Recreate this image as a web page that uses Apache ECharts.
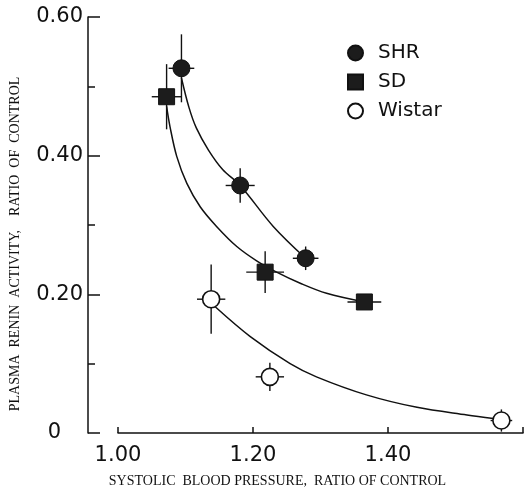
<!DOCTYPE html>
<html><head><meta charset="utf-8">
<script src="https://cdn.jsdelivr.net/npm/echarts@6/dist/echarts.min.js"></script>
<style>html,body{margin:0;padding:0;background:#fff}#c{width:529px;height:493px}</style>
</head><body><div id="c"></div>
<script>
// Data
const seriesNames = ['SHR', 'SD', 'Wistar'];
const shrX = [1.094, 1.181, 1.278];
const shrY = [0.526, 0.357, 0.252];
const shrXErr = [0.019, 0.0215, 0.019];
const shrYErr = [0.049, 0.025, 0.017];
const sdX = [1.072, 1.218, 1.365];
const sdY = [0.485, 0.232, 0.189];
const sdXErr = [0.022, 0.028, 0.025];
const sdYErr = [0.047, 0.030, 0];
const wisX = [1.138, 1.225, 1.568];
const wisY = [0.193, 0.081, 0.018];
const wisXErr = [0.021, 0.021, 0.016];
const wisYErr = [0.050, 0.0205, 0.016];
// fitted curves
const shrFitX = [1.094, 1.105, 1.116, 1.134, 1.155, 1.181, 1.230, 1.278];
const shrFitY = [0.512, 0.470, 0.440, 0.408, 0.380, 0.357, 0.298, 0.252];
const sdFitX = [1.072, 1.077, 1.087, 1.102, 1.122, 1.146, 1.176, 1.206, 1.235, 1.270, 1.309, 1.365];
const sdFitY = [0.471, 0.442, 0.399, 0.360, 0.326, 0.298, 0.269, 0.248, 0.232, 0.216, 0.2015, 0.189];
const wisFitX = [1.144, 1.196, 1.255, 1.294, 1.368, 1.443, 1.517, 1.556];
const wisFitY = [0.182, 0.139, 0.100, 0.081, 0.055, 0.037, 0.026, 0.021];
const xTickLabels = ['1.00', '1.20', '1.40'];
const yTickLabels = ['0', '0.20', '0.40', '0.60'];

const ink = '#111';
const pts = (xs, ys) => xs.map((x, i) => [x, ys[i]]);
const errs = (xs, ys, ex, ey) => xs.map((x, i) => [x, ys[i], ex[i], ey[i]]);

function errRender(params, api) {
  const x = api.value(0), y = api.value(1), ex = api.value(2), ey = api.value(3);
  const c = api.coord([x, y]);
  const l = api.coord([x - ex, y]), r = api.coord([x + ex, y]);
  const t = api.coord([x, y + ey]), b = api.coord([x, y - ey]);
  const st = { stroke: ink, lineWidth: 1.4 };
  return { type: 'group', children: [
    { type: 'line', shape: { x1: l[0], y1: c[1], x2: r[0], y2: c[1] }, style: st },
    { type: 'line', shape: { x1: c[0], y1: t[1], x2: c[0], y2: b[1] }, style: st }
  ]};
}

const lineFont = 'DejaVu Sans';
const fitStyle = { color: ink, width: 1.5 };
const chart = echarts.init(document.getElementById('c'));
chart.setOption({
  backgroundColor: '#fff',
  animation: false,
  grid: { left: 118, right: 6, top: 17, bottom: 60, containLabel: false },
  legend: {
    data: seriesNames, orient: 'vertical', left: 342, top: 38,
    itemWidth: 15, itemHeight: 15, itemGap: 9,
    textStyle: { fontFamily: lineFont, fontSize: 20, color: ink, padding: [0, 0, 0, 10], lineHeight: 19 }
  },
  xAxis: {
    type: 'value', min: 1.0, max: 1.6, interval: 0.2, offset: 3,
    axisLine: { show: true, lineStyle: { color: ink, width: 1.5 } },
    axisTick: { show: true, inside: true, length: 6, lineStyle: { color: ink, width: 1.5 } },
    splitLine: { show: false },
    axisLabel: {
      margin: 9, color: ink, fontFamily: lineFont, fontSize: 21,
      formatter: v => { const i = Math.round((v - 1.0) / 0.2); return xTickLabels[i] !== undefined ? xTickLabels[i] : ''; }
    },
    name: 'SYSTOLIC  BLOOD PRESSURE,  RATIO OF CONTROL', nameLocation: 'middle', nameGap: 38,
    nameTextStyle: { fontFamily: 'Liberation Serif', fontSize: 14, color: ink, padding: [0, 86, 0, 0] }
  },
  yAxis: {
    type: 'value', min: 0, max: 0.6, interval: 0.2, offset: 30,
    axisLine: { show: true, lineStyle: { color: ink, width: 1.5 } },
    axisTick: { show: true, inside: true, length: 12, lineStyle: { color: ink, width: 1.5 } },
    minorTick: { show: true, splitNumber: 2, length: 7, lineStyle: { color: ink, width: 1.5 } },
    splitLine: { show: false },
    axisLabel: {
      margin: 5, color: ink, fontFamily: lineFont, fontSize: 21,
      formatter: v => { const i = Math.round(v / 0.2); return i === 0 ? '{z|' + yTickLabels[0] + '}' : yTickLabels[i]; },
      rich: { z: { fontFamily: lineFont, fontSize: 21, color: ink, padding: [0, 22, 0, 0] } }
    },
    name: 'PLASMA  RENIN  ACTIVITY,    RATIO  OF  CONTROL', nameLocation: 'middle', nameGap: 66,
    nameTextStyle: { fontFamily: 'Liberation Serif', fontSize: 14, color: ink, padding: [0, 38, 0, 0] }
  },
  series: [
    { name: 'shrFit', type: 'line', data: pts(shrFitX, shrFitY), smooth: 0.35, showSymbol: false, z: 1,
      lineStyle: fitStyle },
    { name: 'sdFit', type: 'line', data: pts(sdFitX, sdFitY), smooth: 0.35, showSymbol: false, z: 1,
      lineStyle: fitStyle },
    { name: 'wisFit', type: 'line', data: pts(wisFitX, wisFitY), smooth: 0.35, showSymbol: false, z: 1,
      lineStyle: fitStyle },
    { name: 'errs', type: 'custom', renderItem: errRender, z: 2, encode: { x: 0, y: 1 },
      data: [].concat(errs(shrX, shrY, shrXErr, shrYErr), errs(sdX, sdY, sdXErr, sdYErr), errs(wisX, wisY, wisXErr, wisYErr)) },
    { name: 'SHR', type: 'scatter', data: pts(shrX, shrY), symbol: 'circle', symbolSize: 17, z: 3,
      itemStyle: { color: '#1c1c1c', borderColor: ink, borderWidth: 1, opacity: 1 } },
    { name: 'SD', type: 'scatter', data: pts(sdX, sdY), symbol: 'rect', symbolSize: 16, z: 3,
      itemStyle: { color: '#1c1c1c', borderColor: ink, borderWidth: 1, opacity: 1 } },
    { name: 'Wistar', type: 'scatter', data: pts(wisX, wisY), symbol: 'circle', symbolSize: 17, z: 3,
      itemStyle: { color: '#fff', borderColor: ink, borderWidth: 1.6, opacity: 1 } }
  ]
});
</script></body></html>
